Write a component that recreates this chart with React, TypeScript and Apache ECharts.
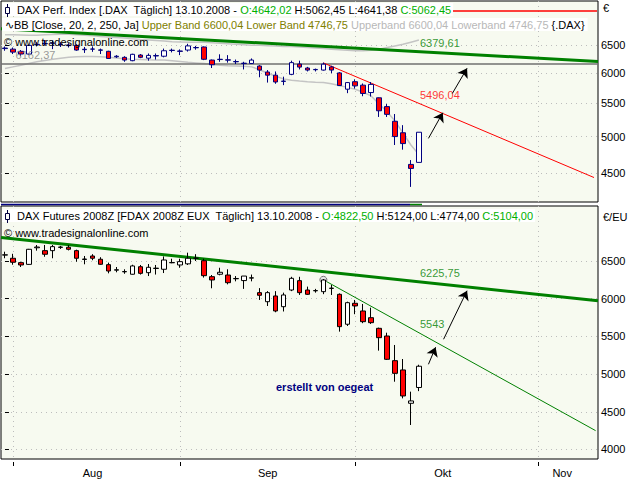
import React, { useEffect, useRef } from "react";
import * as echarts from "echarts";

// ---------- categories (trading days) ----------
const tradingDays = [
  "31.07.2008",
  "01.08.2008", "04.08.2008", "05.08.2008", "06.08.2008", "07.08.2008", "08.08.2008", "11.08.2008", "12.08.2008",
  "13.08.2008", "14.08.2008", "15.08.2008", "18.08.2008", "19.08.2008", "20.08.2008", "21.08.2008", "22.08.2008",
  "25.08.2008", "26.08.2008", "27.08.2008", "28.08.2008", "29.08.2008",
  "01.09.2008", "02.09.2008", "03.09.2008", "04.09.2008", "05.09.2008", "08.09.2008", "09.09.2008", "10.09.2008",
  "11.09.2008", "12.09.2008", "15.09.2008", "16.09.2008", "17.09.2008", "18.09.2008", "19.09.2008", "22.09.2008",
  "23.09.2008", "24.09.2008", "25.09.2008", "26.09.2008", "29.09.2008", "30.09.2008",
  "01.10.2008", "02.10.2008", "03.10.2008", "06.10.2008", "07.10.2008", "08.10.2008", "09.10.2008", "10.10.2008",
  "13.10.2008", "14.10.2008", "15.10.2008", "16.10.2008", "17.10.2008", "20.10.2008", "21.10.2008", "22.10.2008",
  "23.10.2008", "24.10.2008", "27.10.2008", "28.10.2008", "29.10.2008", "30.10.2008", "31.10.2008",
  "03.11.2008", "04.11.2008", "05.11.2008", "06.11.2008", "07.11.2008", "10.11.2008", "11.11.2008", "12.11.2008",
];
const monthLabelDays = ["15.08.2008", "16.09.2008", "16.10.2008", "06.11.2008"];
const monthNames: Record<string, string> = { "08": "Aug", "09": "Sep", "10": "Okt", "11": "Nov" };

// ---------- DAX index: [open, high, low, close] ----------
const daxCandles: number[][] = [
  [6440, 6480, 6400, 6450], [6430, 6460, 6340, 6375], [6390, 6413, 6300, 6340], [6340, 6510, 6330, 6500],
  [6510, 6560, 6480, 6520], [6530, 6600, 6500, 6535], [6545, 6590, 6430, 6540], [6520, 6560, 6470, 6515],
  [6505, 6540, 6460, 6495], [6500, 6520, 6400, 6413], [6420, 6470, 6360, 6428], [6430, 6480, 6380, 6432],
  [6415, 6440, 6340, 6410], [6390, 6400, 6250, 6260], [6290, 6320, 6270, 6300], [6280, 6300, 6200, 6231],
  [6220, 6345, 6210, 6335], [6322, 6340, 6265, 6280], [6265, 6350, 6220, 6315], [6305, 6350, 6240, 6312],
  [6300, 6440, 6280, 6400], [6410, 6440, 6370, 6405], [6395, 6425, 6320, 6390], [6413, 6530, 6385, 6490],
  [6460, 6490, 6420, 6455], [6470, 6480, 6230, 6245], [6231, 6240, 6090, 6148], [6240, 6335, 6200, 6245],
  [6235, 6320, 6185, 6230], [6200, 6240, 6160, 6205], [6175, 6200, 6065, 6170], [6170, 6260, 6160, 6231],
  [6125, 6140, 5930, 6054], [6020, 6054, 5840, 5966], [5966, 6030, 5820, 5850], [5860, 5940, 5797, 5865],
  [5980, 6220, 5966, 6185], [6160, 6220, 6065, 6106], [6090, 6110, 6030, 6054], [6060, 6080, 6030, 6065],
  [6054, 6185, 6045, 6158], [6110, 6130, 6000, 6054], [6005, 6020, 5785, 5790], [5730, 5850, 5665, 5840],
  [5855, 5895, 5740, 5785], [5797, 5825, 5615, 5660], [5675, 5850, 5610, 5810], [5590, 5595, 5290, 5385],
  [5450, 5490, 5290, 5330], [5225, 5335, 4880, 5000], [5055, 5167, 4815, 4900], [4615, 4673, 4326, 4562],
  [4642.02, 5062.45, 4641.38, 5062.45],
];
const daxUpperBand = [
  6700, 6700, 6695, 6690, 6690, 6700, 6705, 6710, 6710, 6700,
  6690, 6680, 6670, 6660, 6650, 6640, 6625, 6610, 6600, 6590,
  6580, 6570, 6565, 6560, 6560, 6560, 6550, 6540, 6530, 6520,
  6510, 6500, 6500, 6495, 6490, 6480, 6480, 6470, 6460, 6450,
  6440, 6430, 6420, 6410, 6400, 6400, 6410, 6430, 6460, 6490,
  6520, 6560, 6600.04,
];
const daxLowerBand = [
  6080, 6110, 6140, 6170, 6200, 6225, 6245, 6265, 6280, 6290,
  6295, 6295, 6290, 6280, 6270, 6255, 6245, 6240, 6235, 6232,
  6230, 6220, 6205, 6190, 6180, 6170, 6150, 6140, 6130, 6125,
  6120, 6110, 6060, 6000, 5950, 5900, 5880, 5865, 5855, 5847,
  5840, 5820, 5790, 5760, 5730, 5680, 5620, 5490, 5370, 5230,
  5050, 4880, 4746.75,
];
const daxPriceTicks = [4500, 5000, 5500, 6000, 6500];
const daxRange = [4142, 7385];
const daxLongTrend = [[-0.5, 6820], [74.5, 6204]];
const daxShortTrend = [[40, 6180], [74, 4444]];
const daxSupport = 6162.37;
const daxLongTrendValue = 6379.61;
const daxShortTrendValue = 5496.04;
const daxArrows = [
  [[53.2, 4974], [55.0, 5355]],
  [[56.2, 5660], [58.05, 6085]],
];

// ---------- DAX futures: [open, high, low, close] ----------
const fdaxCandles: number[][] = [
  [6578, 6623, 6536, 6582], [6536, 6595, 6450, 6483], [6478, 6490, 6420, 6447], [6455, 6660, 6450, 6655],
  [6675, 6712, 6637, 6685], [6637, 6712, 6556, 6589], [6637, 6712, 6536, 6690], [6680, 6700, 6660, 6685],
  [6682, 6712, 6640, 6655], [6637, 6650, 6490, 6536], [6520, 6566, 6456, 6526], [6566, 6590, 6510, 6536],
  [6523, 6550, 6450, 6456], [6451, 6478, 6336, 6367], [6378, 6420, 6350, 6384], [6356, 6390, 6330, 6360],
  [6324, 6450, 6320, 6434], [6424, 6447, 6320, 6336], [6345, 6460, 6300, 6416], [6400, 6447, 6320, 6405],
  [6390, 6560, 6340, 6513], [6476, 6530, 6470, 6480], [6447, 6530, 6410, 6491], [6462, 6610, 6447, 6536],
  [6534, 6590, 6500, 6538], [6504, 6530, 6280, 6305], [6292, 6314, 6138, 6248], [6324, 6410, 6310, 6350],
  [6314, 6390, 6190, 6212], [6264, 6300, 6230, 6268], [6240, 6300, 6130, 6300], [6273, 6320, 6230, 6277],
  [6080, 6140, 5983, 6045], [5960, 6100, 5903, 6080], [6036, 6100, 5820, 5837], [5894, 6080, 5830, 6049],
  [6115, 6290, 6100, 6270], [6239, 6290, 6050, 6080], [6115, 6160, 6050, 6058], [6104, 6130, 6080, 6108],
  [6093, 6260, 6060, 6248], [6136, 6182, 6049, 6140], [6058, 6070, 5563, 5629], [5661, 5960, 5638, 5947],
  [5939, 5983, 5794, 5904], [5837, 5930, 5675, 5695], [5748, 5881, 5665, 5682], [5607, 5616, 5311, 5483],
  [5505, 5549, 5187, 5196], [5178, 5386, 4899, 5010], [5055, 5200, 4678, 4710], [4613, 4767, 4325, 4644],
  [4822.5, 5124, 4774, 5104],
];
const fdaxPriceTicks = [4000, 4500, 5000, 5500, 6000, 6500];
const fdaxRange = [3874, 7229];
const fdaxLongTrend = [[-0.5, 6812], [74.5, 5972]];
const fdaxShortTrend = [[40, 6250], [74.2, 4250]];
const fdaxLongTrendValue = 6225.75;
const fdaxShortTrendValue = 5543;
const fdaxArrows = [
  [[53.2, 5130], [54.1, 5356]],
  [[55.1, 5462], [58.05, 6106]],
];

const FONT = '"Liberation Sans", Arial, sans-serif';
const fmt = (v: number, d = 2) => v.toFixed(d).replace(".", ",");
const ln = Math.log;

export default function App() {
  const ref = useRef<HTMLDivElement>(null);
  useEffect(() => {
    if (!ref.current) return;
    const chart = echarts.init(ref.current, undefined, { renderer: "svg" });
    const n = tradingDays.length;
    const monthStartIdx = tradingDays
      .map((d, i) => (i > 0 && d.slice(3, 5) !== tradingDays[i - 1].slice(3, 5) ? i : -1))
      .filter((i) => i >= 0);
    const monthLabelIdx = monthLabelDays.map((d) => tradingDays.indexOf(d));
    const dotted = { show: true, lineStyle: { color: "#bdbdbd", type: [1, 4] as any, width: 1 } };

    const valueX = (gridIndex: number, showLabels: boolean) => ({
      type: "value",
      gridIndex,
      min: -0.5,
      max: n - 0.5,
      position: "bottom",
      offset: 3,
      axisLine: { show: false },
      axisTick: { show: showLabels, customValues: monthStartIdx, length: 4, lineStyle: { color: "#000" } },
      axisLabel: {
        show: showLabels,
        customValues: monthLabelIdx,
        margin: 5,
        color: "#000",
        fontSize: 11,
        fontFamily: FONT,
        formatter: (v: number) => monthNames[tradingDays[Math.round(v)].slice(3, 5)] || "",
      },
      splitLine: dotted,
    });

    const candleOf = (c: number[][], tf: (v: number) => number) =>
      c.map(([o, h, l, cl]) => [tf(o), tf(cl), tf(l), tf(h)]);

    const labelSeries = (xi: number, yi: number, x: number, y: number, text: string, color: string) => ({
      type: "scatter",
      xAxisIndex: xi,
      yAxisIndex: yi,
      symbolSize: 1,
      silent: true,
      itemStyle: { color: "rgba(0,0,0,0)" },
      data: [[x, y]],
      label: { show: true, position: [0, -14], formatter: text, color, fontSize: 11, fontFamily: FONT },
      z: 6,
    });

    const lineSeries = (xi: number, yi: number, pts: any[], color: string, width: number) => ({
      type: "line",
      xAxisIndex: xi,
      yAxisIndex: yi,
      data: pts,
      symbol: "none",
      silent: true,
      lineStyle: { color, width },
      z: 4,
    });

    const arrowSeries = (xi: number, yi: number, arrows: number[][][], tf: (v: number) => number) => ({
      type: "lines",
      coordinateSystem: "cartesian2d",
      xAxisIndex: xi,
      yAxisIndex: yi,
      symbol: ["none", "arrow"],
      symbolSize: 9,
      silent: true,
      lineStyle: { color: "#000", width: 1, opacity: 1 },
      itemStyle: { color: "#000" },
      data: arrows.map((a) => ({ coords: a.map(([x, v]) => [x, tf(v)]) })),
      z: 7,
    });

    const id = (v: number) => v;
    const daxLast = daxCandles[daxCandles.length - 1];
    const fdaxLast = fdaxCandles[fdaxCandles.length - 1];
    const up = daxUpperBand[daxUpperBand.length - 1];
    const lo = daxLowerBand[daxLowerBand.length - 1];
    const txt = { font: `11px ${FONT}` };

    const candleIcon = (y0: number) => [
      { type: "line", z: 101, shape: { x1: 7.5, y1: y0, x2: 7.5, y2: y0 + 13 }, style: { stroke: "#000040", lineWidth: 1 } },
      { type: "rect", z: 102, shape: { x: 5.5, y: y0 + 3.5, width: 4, height: 6 }, style: { fill: "#fff", stroke: "#000040", lineWidth: 1 } },
    ];

    const option: any = {
      animation: false,
      backgroundColor: "#ffffff",
      grid: [
        { left: 1, top: 1, width: 597, height: 201, show: true, backgroundColor: "#f7faf0", borderColor: "#000", borderWidth: 1 },
        { left: 1, top: 206, width: 597, height: 253, show: true, backgroundColor: "#f7faf0", borderColor: "#000", borderWidth: 1 },
      ],
      xAxis: [
        { type: "category", gridIndex: 0, data: tradingDays, show: false, position: "top", boundaryGap: true },
        { type: "category", gridIndex: 1, data: tradingDays, show: false, position: "top", boundaryGap: true },
        valueX(0, false),
        valueX(1, true),
      ],
      yAxis: [
        {
          type: "value",
          gridIndex: 0,
          position: "right",
          min: ln(daxRange[0]),
          max: ln(daxRange[1]),
          axisLine: { show: false },
          axisTick: { show: true, customValues: daxPriceTicks.map(ln), length: 4, lineStyle: { color: "#000" } },
          axisLabel: {
            customValues: daxPriceTicks.map(ln),
            formatter: (v: number) => String(Math.round(Math.exp(v))),
            color: "#000",
            fontSize: 11,
            fontFamily: FONT,
            margin: 3,
          },
          splitLine: dotted,
        },
        {
          type: "value",
          gridIndex: 1,
          position: "right",
          min: fdaxRange[0],
          max: fdaxRange[1],
          axisLine: { show: false },
          axisTick: { show: true, customValues: fdaxPriceTicks, length: 4, lineStyle: { color: "#000" } },
          axisLabel: {
            customValues: fdaxPriceTicks,
            formatter: (v: number) => String(Math.round(v)),
            color: "#000",
            fontSize: 11,
            fontFamily: FONT,
            margin: 3,
          },
          splitLine: dotted,
        },
      ],
      series: [
        // ---- top panel ----
        lineSeries(2, 0, daxUpperBand.map((v, i) => [i, ln(v)]), "#c4c4c4", 1.5),
        lineSeries(2, 0, daxLowerBand.map((v, i) => [i, ln(v)]), "#c4c4c4", 1.5),
        lineSeries(2, 0, [[-0.5, ln(daxSupport)], [n - 0.5, ln(daxSupport)]], "#707070", 1.5),
        lineSeries(2, 0, daxLongTrend.map(([x, v]) => [x, ln(v)]), "#008000", 3),
        lineSeries(2, 0, daxShortTrend.map(([x, v]) => [x, ln(v)]), "#ff0000", 1),
        {
          type: "candlestick",
          xAxisIndex: 0,
          yAxisIndex: 0,
          data: candleOf(daxCandles, ln),
          barWidth: 5,
          silent: true,
          z: 5,
          itemStyle: {
            color: "#ffffff",
            color0: "#ff0000",
            borderColor: "#000080",
            borderColor0: "#000080",
            borderColorDoji: "#000080",
            borderWidth: 1,
          },
        },
        labelSeries(2, 0, 1.4, ln(daxSupport), fmt(daxSupport), "#808080"),
        labelSeries(2, 0, 52.2, ln(daxLongTrendValue), fmt(daxLongTrendValue), "#008000"),
        labelSeries(2, 0, 52.2, ln(daxShortTrendValue), fmt(daxShortTrendValue), "#ff0000"),
        arrowSeries(2, 0, daxArrows, ln),
        // ---- bottom panel ----
        lineSeries(3, 1, fdaxLongTrend, "#008000", 3),
        {
          type: "line",
          xAxisIndex: 3,
          yAxisIndex: 1,
          silent: true,
          z: 4,
          lineStyle: { color: "#008000", width: 1 },
          data: [
            { value: fdaxShortTrend[0], symbol: "circle", symbolSize: 7, itemStyle: { color: "#e8e8e8", borderColor: "#707070", borderWidth: 1 } },
            { value: fdaxShortTrend[1], symbol: "none" },
          ],
        },
        {
          type: "candlestick",
          xAxisIndex: 1,
          yAxisIndex: 1,
          data: candleOf(fdaxCandles, id),
          barWidth: 5,
          silent: true,
          z: 5,
          itemStyle: {
            color: "#ffffff",
            color0: "#ff0000",
            borderColor: "#000000",
            borderColor0: "#000000",
            borderColorDoji: "#000000",
            borderWidth: 1,
          },
        },
        labelSeries(3, 1, 52.2, fdaxLongTrendValue, fmt(fdaxLongTrendValue), "#008000"),
        labelSeries(3, 1, 52.2, fdaxShortTrendValue, fmt(fdaxShortTrendValue, 0), "#008000"),
        arrowSeries(3, 1, fdaxArrows, id),
      ],
      graphic: [
        // top header
        {
          type: "text", x: 2, y: 3, z: 100,
          style: {
            ...txt, fill: "#000", backgroundColor: "#ffffff", padding: [1, 2, 1, 15],
            text: `DAX Perf. Index [.DAX  Täglich] 13.10.2008 - {g|O:${fmt(daxLast[0])}} H:${fmt(daxLast[1])} L:${fmt(daxLast[2])} {g|C:${fmt(daxLast[3])}}`,
            rich: { g: { fill: "#00b000", ...txt } },
          },
        },
        ...candleIcon(4),
        { type: "line", z: 100, shape: { x1: 453, y1: 11, x2: 597, y2: 11 }, style: { stroke: "#ff0000", lineWidth: 1.5 } },
        {
          type: "text", x: 2, y: 18, z: 100,
          style: {
            ...txt, fill: "#000", backgroundColor: "#ffffff", padding: [1, 3, 1, 3],
            text: `∿BB [Close, 20, 2, 250, Ja] {o|Upper Band ${fmt(up)} Lower Band ${fmt(lo)}} {l|Upperband ${fmt(up)} Lowerband ${fmt(lo)}} {.DAX}`,
            rich: { o: { fill: "#808000", ...txt }, l: { fill: "#b8b8b8", ...txt } },
          },
        },
        { type: "text", x: 4, y: 36, z: 100, style: { ...txt, fill: "#000", text: "© www.tradesignalonline.com" } },
        { type: "text", x: 603, y: 2, z: 100, style: { ...txt, fill: "#000", text: "€" } },
        // separator
        { type: "line", z: 100, shape: { x1: 1, y1: 204.5, x2: 410, y2: 204.5 }, style: { stroke: "#000080", lineWidth: 1.5 } },
        { type: "line", z: 100, shape: { x1: 410, y1: 204.5, x2: 422, y2: 204.5 }, style: { stroke: "#008000", lineWidth: 1.5 } },
        // bottom header
        {
          type: "text", x: 2, y: 209, z: 100,
          style: {
            ...txt, fill: "#000", backgroundColor: "#ffffff", padding: [1, 2, 1, 15],
            text: `DAX Futures 2008Z [FDAX 2008Z EUX  Täglich] 13.10.2008 - {g|O:${fmt(fdaxLast[0])}} H:${fmt(fdaxLast[1])} L:${fmt(fdaxLast[2])} {g|C:${fmt(fdaxLast[3])}}`,
            rich: { g: { fill: "#00b000", ...txt } },
          },
        },
        ...candleIcon(210),
        { type: "text", x: 4, y: 227, z: 100, style: { ...txt, fill: "#000", text: "© www.tradesignalonline.com" } },
        { type: "text", x: 603, y: 211, z: 100, style: { ...txt, fill: "#000", text: "€/EU" } },
        { type: "text", x: 276, y: 381, z: 100, style: { font: `bold 11px ${FONT}`, fill: "#000080", text: "erstellt von oegeat" } },
      ],
    };
    chart.setOption(option);
    return () => chart.dispose();
  }, []);
  return (
    <div
      ref={ref}
      style={{ position: "absolute", left: 0, top: 0, width: 640, height: 480, background: "#fff" }}
    />
  );
}
